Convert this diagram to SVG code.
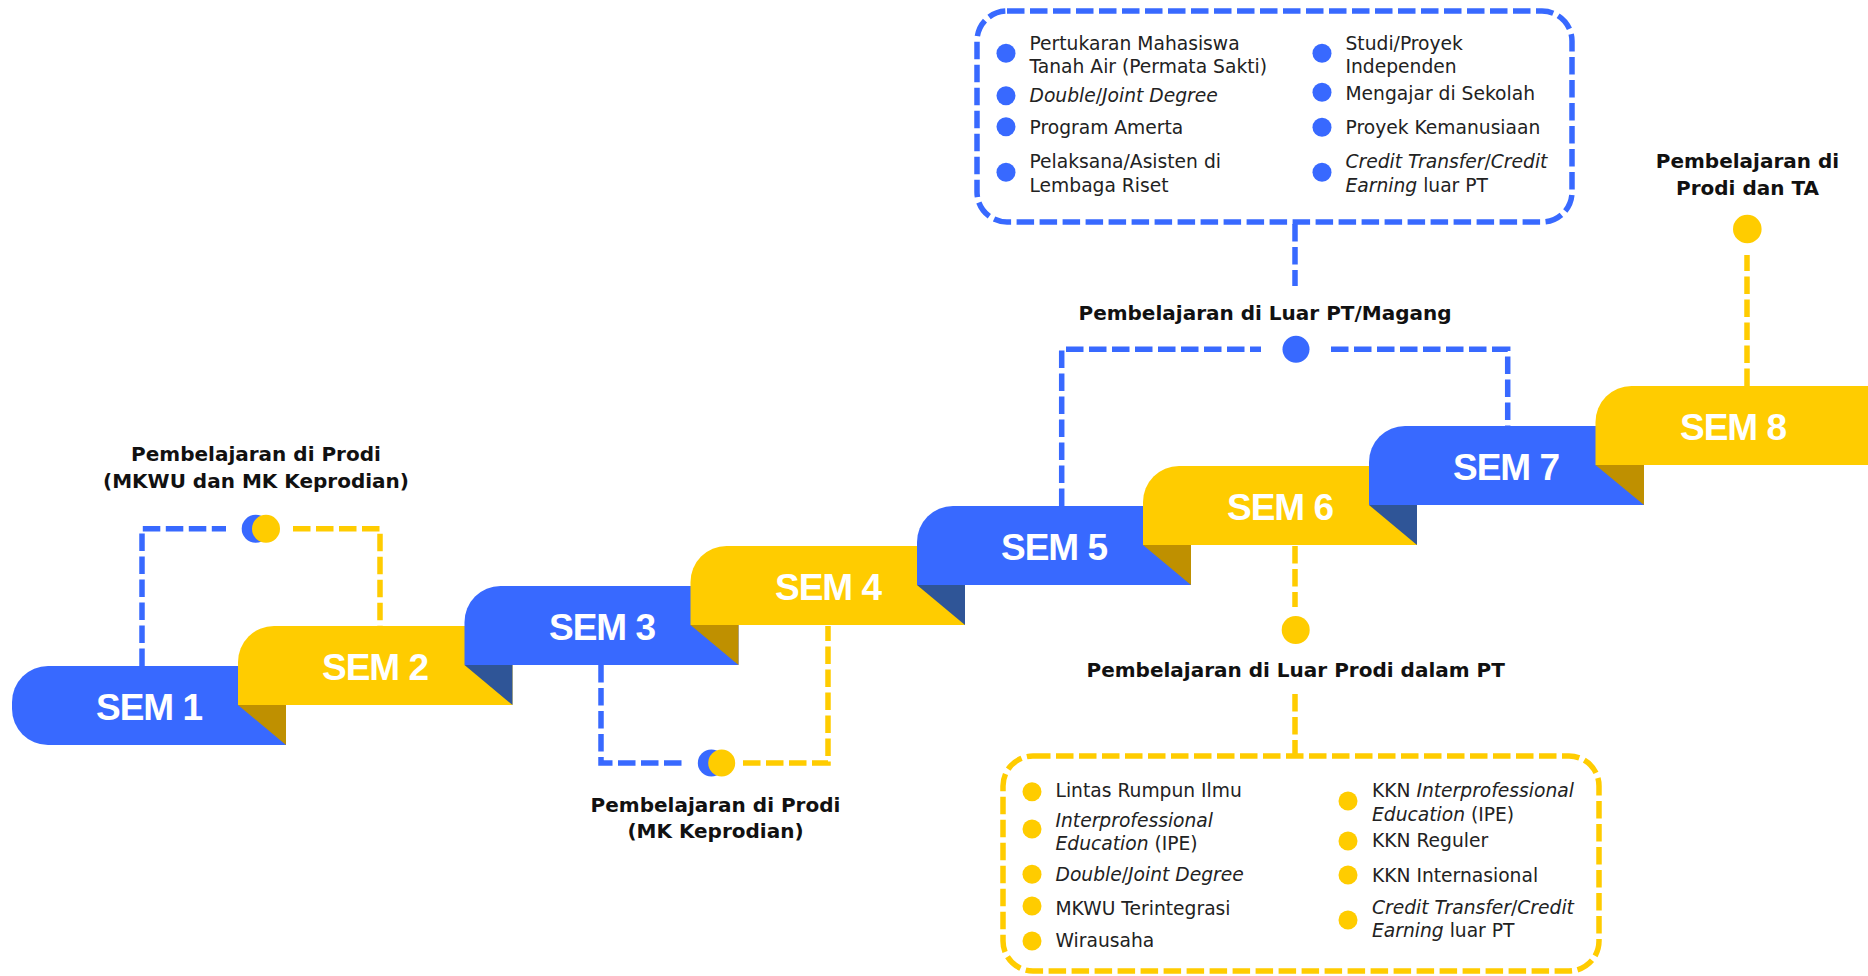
<svg xmlns="http://www.w3.org/2000/svg" width="1868" height="976" viewBox="0 0 1868 976">
<style>
.blue{fill:#3869FF}
.yel{fill:#FFCC00}
.dblue{fill:#2F5597}
.dgold{fill:#BF9000}
.sem{font-family:"Liberation Sans",Arial,sans-serif;font-weight:bold;font-size:37px;fill:#FFFFFF;text-anchor:middle;letter-spacing:-1px}
.lbl{font-family:"DejaVu Sans","Liberation Sans",sans-serif;font-weight:bold;font-size:20px;fill:#111111;text-anchor:middle}
.item{font-family:"DejaVu Sans","Liberation Sans",sans-serif;font-size:18.7px;fill:#222222}
.it{font-style:italic}
.dashB{fill:none;stroke:#3869FF;stroke-width:5.5;stroke-dasharray:17.5 5.5}
.dashY{fill:none;stroke:#FFCC00;stroke-width:5.5;stroke-dasharray:17.5 5.5}
</style>

<g id="sem1">
<path class="blue" d="M48,666 H286 V745 H48 A36,36 0 0 1 12,709 V702 A36,36 0 0 1 48,666 Z"/>
<text class="sem" x="149" y="719.5">SEM 1</text>
</g>
<g id="sem2">
<polygon class="dgold" points="238,705 286,705 286,745"/>
<path class="yel" d="M274,626 H512.5 V705 H238 V662 A36,36 0 0 1 274,626 Z"/>
<text class="sem" x="375" y="679.5">SEM 2</text>
</g>
<g id="sem3">
<polygon class="dblue" points="464.5,665 512.5,665 512.5,705"/>
<path class="blue" d="M500.5,586 H738.5 V665 H464.5 V622 A36,36 0 0 1 500.5,586 Z"/>
<text class="sem" x="602" y="639.5">SEM 3</text>
</g>
<g id="sem4">
<polygon class="dgold" points="690.5,625 738.5,625 738.5,665"/>
<path class="yel" d="M726.5,546 H965 V625 H690.5 V582 A36,36 0 0 1 726.5,546 Z"/>
<text class="sem" x="828" y="599.5">SEM 4</text>
</g>
<g id="sem5">
<polygon class="dblue" points="917,585 965,585 965,625"/>
<path class="blue" d="M953,506 H1191 V585 H917 V542 A36,36 0 0 1 953,506 Z"/>
<text class="sem" x="1054" y="559.5">SEM 5</text>
</g>
<g id="sem6">
<polygon class="dgold" points="1143,545 1191,545 1191,585"/>
<path class="yel" d="M1179,466 H1417 V545 H1143 V502 A36,36 0 0 1 1179,466 Z"/>
<text class="sem" x="1280" y="519.5">SEM 6</text>
</g>
<g id="sem7">
<polygon class="dblue" points="1369,505 1417,505 1417,545"/>
<path class="blue" d="M1405,426 H1644 V505 H1369 V462 A36,36 0 0 1 1405,426 Z"/>
<text class="sem" x="1506" y="479.5">SEM 7</text>
</g>
<g id="sem8">
<polygon class="dgold" points="1595.5,465 1644,465 1644,505"/>
<path class="yel" d="M1631.5,386 H1868 V465 H1595.5 V422 A36,36 0 0 1 1631.5,386 Z"/>
<text class="sem" x="1733" y="439.5">SEM 8</text>
</g>

<g id="connectors">
<path class="dashB" d="M142,666 V528.8 H226"/>
<path class="dashY" d="M293,528.8 H380 V626"/>
<path class="dashB" d="M601,665 V763 H685"/>
<path class="dashY" d="M743,763 H828 V626"/>
<path class="dashB" d="M1061.7,506 V349.3 H1261"/>
<path class="dashB" d="M1331,349.3 H1507.7 V426"/>
<path class="dashB" d="M1295,224 V286"/>
<path class="dashY" d="M1295,546 V607"/>
<path class="dashY" d="M1295,694 V755"/>
<path class="dashY" d="M1747,386 V255"/>
</g>

<g id="node-prodi-mkwu">
<circle class="blue" cx="255.7" cy="528.8" r="14"/>
<circle class="yel" cx="266" cy="528.8" r="14"/>
<text class="lbl" x="256" y="461">Pembelajaran di Prodi</text>
<text class="lbl" x="256" y="488">(MKWU dan MK Keprodian)</text>
</g>

<g id="node-prodi-mk">
<circle class="blue" cx="711.3" cy="763" r="13.5"/>
<circle class="yel" cx="721.7" cy="763" r="13.5"/>
<text class="lbl" x="715.5" y="811.7">Pembelajaran di Prodi</text>
<text class="lbl" x="715.5" y="838">(MK Keprodian)</text>
</g>

<g id="node-luar-pt">
<circle class="blue" cx="1296" cy="349.3" r="13.5"/>
<text class="lbl" x="1265" y="320">Pembelajaran di Luar PT/Magang</text>
</g>

<g id="node-luar-prodi">
<circle class="yel" cx="1295.7" cy="630" r="14"/>
<text class="lbl" x="1295.7" y="677.3">Pembelajaran di Luar Prodi dalam PT</text>
</g>

<g id="node-prodi-ta">
<circle class="yel" cx="1747.3" cy="229" r="14.3"/>
<text class="lbl" x="1747.5" y="167.7">Pembelajaran di</text>
<text class="lbl" x="1747.5" y="195">Prodi dan TA</text>
</g>

<g id="box-luar-pt">
<rect class="dashB" x="977" y="11" width="595" height="211" rx="30" ry="30"/>
<circle class="blue" cx="1006" cy="53.3" r="9.5"/>
<circle class="blue" cx="1006" cy="95.7" r="9.5"/>
<circle class="blue" cx="1006" cy="126.7" r="9.5"/>
<circle class="blue" cx="1006" cy="172.3" r="9.5"/>
<circle class="blue" cx="1322" cy="53.3" r="9.5"/>
<circle class="blue" cx="1322" cy="92.3" r="9.5"/>
<circle class="blue" cx="1322" cy="127.3" r="9.5"/>
<circle class="blue" cx="1322" cy="172.3" r="9.5"/>
<text class="item" x="1029.5" y="50">Pertukaran Mahasiswa</text>
<text class="item" x="1029.5" y="73">Tanah Air (Permata Sakti)</text>
<text class="item" x="1029.5" y="101.7"><tspan class="it">Double</tspan>/<tspan class="it">Joint Degree</tspan></text>
<text class="item" x="1029.5" y="134">Program Amerta</text>
<text class="item" x="1029.5" y="168.3">Pelaksana/Asisten di</text>
<text class="item" x="1029.5" y="191.7">Lembaga Riset</text>
<text class="item" x="1345.5" y="50">Studi/Proyek</text>
<text class="item" x="1345.5" y="73">Independen</text>
<text class="item" x="1345.5" y="100">Mengajar di Sekolah</text>
<text class="item" x="1345.5" y="134">Proyek Kemanusiaan</text>
<text class="item" x="1345.5" y="168"><tspan class="it">Credit Transfer</tspan>/<tspan class="it">Credit</tspan></text>
<text class="item" x="1345.5" y="191.7"><tspan class="it">Earning</tspan> luar PT</text>
</g>

<g id="box-luar-prodi">
<rect class="dashY" x="1003" y="756" width="596" height="215" rx="30" ry="30"/>
<circle class="yel" cx="1032" cy="791.7" r="9.5"/>
<circle class="yel" cx="1032" cy="829" r="9.5"/>
<circle class="yel" cx="1032" cy="874.3" r="9.5"/>
<circle class="yel" cx="1032" cy="906" r="9.5"/>
<circle class="yel" cx="1032" cy="941" r="9.5"/>
<circle class="yel" cx="1348" cy="801" r="9.5"/>
<circle class="yel" cx="1348" cy="841" r="9.5"/>
<circle class="yel" cx="1348" cy="875" r="9.5"/>
<circle class="yel" cx="1348" cy="920" r="9.5"/>
<text class="item" x="1055.5" y="797.3">Lintas Rumpun Ilmu</text>
<text class="item it" x="1055.5" y="827.3">Interprofessional</text>
<text class="item" x="1055.5" y="850"><tspan class="it">Education</tspan> (IPE)</text>
<text class="item" x="1055.5" y="880.7"><tspan class="it">Double</tspan>/<tspan class="it">Joint Degree</tspan></text>
<text class="item" x="1055.5" y="915">MKWU Terintegrasi</text>
<text class="item" x="1055.5" y="947.3">Wirausaha</text>
<text class="item" x="1372" y="797.3">KKN <tspan class="it">Interprofessional</tspan></text>
<text class="item" x="1372" y="820.7"><tspan class="it">Education</tspan> (IPE)</text>
<text class="item" x="1372" y="847.3">KKN Reguler</text>
<text class="item" x="1372" y="881.7">KKN Internasional</text>
<text class="item" x="1372" y="914"><tspan class="it">Credit Transfer</tspan>/<tspan class="it">Credit</tspan></text>
<text class="item" x="1372" y="936.7"><tspan class="it">Earning</tspan> luar PT</text>
</g>
</svg>
